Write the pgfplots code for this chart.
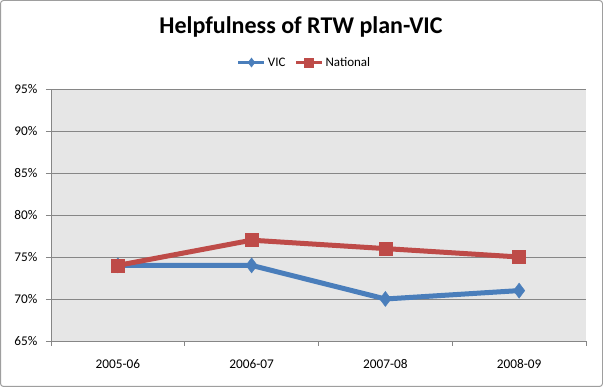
\documentclass[border=0pt]{standalone}
\usepackage{pgfplots}
\pgfplotsset{compat=1.18}
\usepackage{fontspec}
\setmainfont{Carlito}
\definecolor{vicblue}{HTML}{4A7EBB}
\definecolor{natred}{HTML}{BE4B48}
\definecolor{bggray}{HTML}{E6E6E6}
\definecolor{gridgray}{HTML}{868686}
\begin{document}
\begin{tikzpicture}
\useasboundingbox (0pt,0pt) rectangle (603pt,387pt);
\draw[gridgray!80, line width=1pt, rounded corners=3pt] (0.5pt,0.5pt) rectangle (602.5pt,386.5pt);
\node[font=\bfseries\fontsize{24}{28}\selectfont, anchor=base, inner sep=0pt] at (301pt,353.5pt) {Helpfulness of RTW plan-VIC};
\begin{axis}[
  at={(51pt,46pt)}, anchor=south west,
  width=535pt, height=252pt, scale only axis,
  xmin=-0.5, xmax=3.5, ymin=65, ymax=95,
  axis x line*=bottom, axis y line*=left,
  axis line style={gridgray, line width=0.8pt, -},
  axis background/.style={fill=bggray},
  ytick={65,70,...,95},
  yticklabel={\pgfmathprintnumber{\tick}\%},
  ymajorgrids, grid style={gridgray, line width=0.8pt},
  xtick={-0.5,0.5,1.5,2.5,3.5}, xticklabels={},
  extra x ticks={0,1,2,3},
  extra x tick labels={2005-06,2006-07,2007-08,2008-09},
  extra x tick style={major tick length=0pt, grid=none},
  tick align=outside, major tick length=5pt,
  tick style={gridgray, line width=0.8pt},
  /pgf/number format/assume math mode=true,
  tick label style={font=\fontsize{13.3}{15}\selectfont},
  yticklabel style={xshift=-5pt},
  xticklabel style={yshift=-15pt},
  legend style={at={(0.474,1.105)}, anchor=center, draw=none, fill=none,
    legend columns=2, font=\fontsize{13}{15}\selectfont,
    /tikz/every even column/.append style={column sep=7pt},
    inner sep=0pt},
  legend image code/.code={%
    \draw[#1, line width=3pt, mark size=4.5pt, mark repeat=2, mark phase=2] plot coordinates {(0pt,0pt) (13pt,0pt) (26pt,0pt)};
  },
]
\addplot[vicblue, line width=5pt, mark=diamond*, mark size=7.5pt, mark options={solid, line width=0.5pt}]
  coordinates {(0,74) (1,74) (2,70) (3,71)};
\addlegendentry{VIC}
\addplot[natred, line width=5pt, mark=square*, mark size=6.5pt, mark options={solid, line width=0.5pt}]
  coordinates {(0,74) (1,77) (2,76) (3,75)};
\addlegendentry{National}
\end{axis}
\end{tikzpicture}
\end{document}
